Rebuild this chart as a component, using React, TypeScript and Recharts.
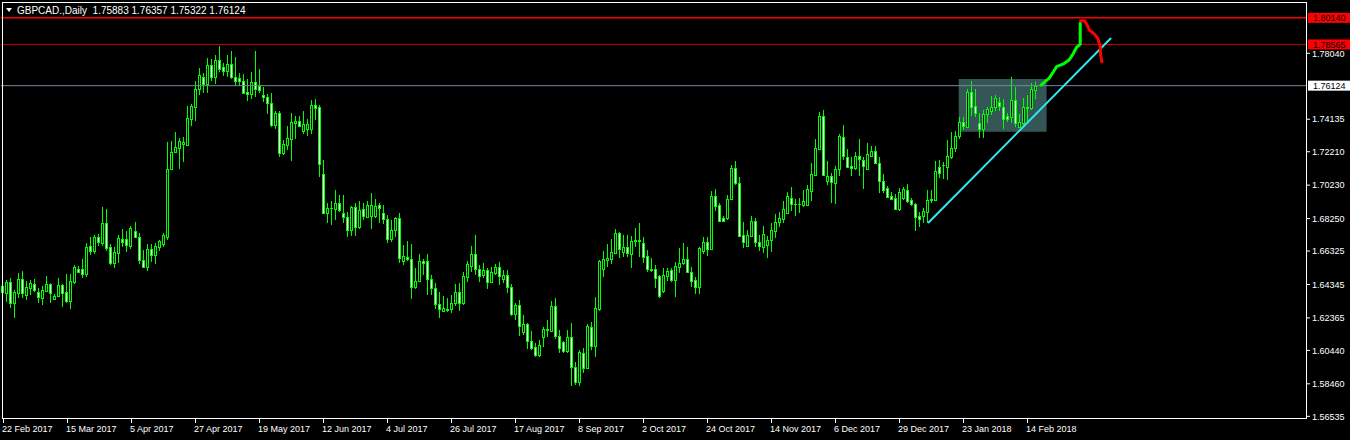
import { Bar, ComposedChart, ReferenceArea, ReferenceLine, Scatter, XAxis, YAxis } from 'recharts';

const open = [
  1.6426, 1.6384, 1.6449, 1.6325, 1.6384, 1.6467, 1.6372, 1.6414, 1.6437, 1.6390,
  1.6354, 1.6396, 1.6437, 1.6349, 1.6366, 1.6432, 1.6390, 1.6337, 1.6449, 1.6526,
  1.6526, 1.6497, 1.6663, 1.6633, 1.6716, 1.6680, 1.6799, 1.6657, 1.6562, 1.6621,
  1.6704, 1.6704, 1.6663, 1.6751, 1.6716, 1.6580, 1.6538, 1.6645, 1.6609, 1.6657,
  1.6674, 1.6716, 1.7119, 1.7219, 1.7243, 1.7267, 1.7261, 1.7415, 1.7486, 1.7593,
  1.7664, 1.7622, 1.7735, 1.7664, 1.7764, 1.7723, 1.7699, 1.7741, 1.7664, 1.7658,
  1.7640, 1.7575, 1.7563, 1.7634, 1.7610, 1.7557, 1.7545, 1.7510, 1.7379, 1.7450,
  1.7213, 1.7261, 1.7296, 1.7391, 1.7403, 1.7344, 1.7356, 1.7356, 1.7498, 1.7486,
  1.7089, 1.6858, 1.6888, 1.6882, 1.6917, 1.6858, 1.6834, 1.6757, 1.6894, 1.6775,
  1.6882, 1.6834, 1.6840, 1.6840, 1.6905, 1.6858, 1.6822, 1.6704, 1.6757, 1.6828,
  1.6574, 1.6597, 1.6586, 1.6420, 1.6455, 1.6574, 1.6574, 1.6467, 1.6414, 1.6319,
  1.6278, 1.6283, 1.6289, 1.6325, 1.6390, 1.6325, 1.6479, 1.6544, 1.6615, 1.6526,
  1.6491, 1.6520, 1.6449, 1.6503, 1.6538, 1.6467, 1.6491, 1.6420, 1.6260, 1.6313,
  1.6153, 1.6200, 1.6100, 1.6064, 1.6017, 1.6123, 1.6162, 1.6159, 1.6307, 1.6129,
  1.6094, 1.6041, 1.6123, 1.5946, 1.5857, 1.6029, 1.5940, 1.6183, 1.6070, 1.6289,
  1.6526, 1.6580, 1.6586, 1.6621, 1.6740, 1.6627, 1.6657, 1.6615, 1.6698, 1.6695,
  1.6680, 1.6603, 1.6526, 1.6526, 1.6485, 1.6396, 1.6485, 1.6520, 1.6461, 1.6538,
  1.6562, 1.6586, 1.6509, 1.6461, 1.6420, 1.6633, 1.6686, 1.6645, 1.6959, 1.6905,
  1.6828, 1.6828, 1.6941, 1.7125, 1.7036, 1.6728, 1.6663, 1.6722, 1.6811, 1.6686,
  1.6657, 1.6668, 1.6698, 1.6751, 1.6805, 1.6822, 1.6858, 1.6947, 1.6911, 1.6909,
  1.6905, 1.6905, 1.6988, 1.7083, 1.7237, 1.7433, 1.7048, 1.7077, 1.7036, 1.7119,
  1.7308, 1.7190, 1.7137, 1.7125, 1.7196, 1.7172, 1.7119, 1.7196, 1.7225, 1.7154,
  1.7048, 1.7006, 1.6959, 1.6947, 1.6882, 1.6947, 1.6994, 1.6935, 1.6911, 1.6840,
  1.6840, 1.6864, 1.6935, 1.6935, 1.7131, 1.7140, 1.7131, 1.7190, 1.7243, 1.7314,
  1.7397, 1.7367, 1.7575, 1.7492, 1.7391, 1.7356, 1.7445, 1.7462, 1.7486, 1.7516,
  1.7486, 1.7433, 1.7427, 1.7527, 1.7367, 1.7391, 1.7484, 1.7480, 1.75883
];

const high = [
  1.6449, 1.6461, 1.6473, 1.6402, 1.6503, 1.6514, 1.6455, 1.6461, 1.6467, 1.6414,
  1.6426, 1.6485, 1.6440, 1.6378, 1.6473, 1.6437, 1.6497, 1.6497, 1.6550, 1.6544,
  1.6586, 1.6680, 1.6716, 1.6728, 1.6734, 1.6894, 1.6882, 1.6674, 1.6657, 1.6728,
  1.6763, 1.6751, 1.6781, 1.6805, 1.6740, 1.6639, 1.6674, 1.6674, 1.6680, 1.6698,
  1.6740, 1.7279, 1.7285, 1.7338, 1.7302, 1.7308, 1.7492, 1.7504, 1.7640, 1.7717,
  1.7687, 1.7776, 1.7770, 1.7794, 1.7847, 1.7747, 1.7794, 1.7818, 1.7782, 1.7687,
  1.7681, 1.7652, 1.7693, 1.7818, 1.7711, 1.7604, 1.7563, 1.7569, 1.7462, 1.7462,
  1.7290, 1.7373, 1.7450, 1.7433, 1.7433, 1.7462, 1.7415, 1.7527, 1.7533, 1.7498,
  1.7172, 1.6917, 1.6929, 1.6994, 1.6965, 1.6965, 1.6864, 1.6900, 1.6917, 1.6929,
  1.6917, 1.6929, 1.6976, 1.6941, 1.6917, 1.6905, 1.6846, 1.6817, 1.6834, 1.6858,
  1.6668, 1.6692, 1.6674, 1.6532, 1.6615, 1.6586, 1.6615, 1.6491, 1.6443, 1.6390,
  1.6366, 1.6354, 1.6372, 1.6437, 1.6443, 1.6509, 1.6574, 1.6663, 1.6728, 1.6550,
  1.6562, 1.6532, 1.6538, 1.6556, 1.6568, 1.6520, 1.6520, 1.6437, 1.6325, 1.6343,
  1.6254, 1.6206, 1.6159, 1.6088, 1.6106, 1.6183, 1.6224, 1.6337, 1.6354, 1.6165,
  1.6100, 1.6165, 1.6206, 1.5975, 1.6046, 1.6058, 1.6200, 1.6212, 1.6360, 1.6580,
  1.6633, 1.6674, 1.6704, 1.6763, 1.6746, 1.6728, 1.6728, 1.6722, 1.6769, 1.6799,
  1.6716, 1.6639, 1.6591, 1.6550, 1.6491, 1.6532, 1.6532, 1.6532, 1.6568, 1.6651,
  1.6680, 1.6657, 1.6538, 1.6479, 1.6657, 1.6716, 1.6716, 1.6988, 1.7000, 1.6917,
  1.6840, 1.6965, 1.7142, 1.7166, 1.7071, 1.6805, 1.6757, 1.6840, 1.6828, 1.6728,
  1.6781, 1.6722, 1.6799, 1.6852, 1.6864, 1.6929, 1.6982, 1.7012, 1.6941, 1.6947,
  1.6994, 1.7024, 1.7154, 1.7296, 1.7456, 1.7468, 1.7166, 1.7095, 1.7137, 1.7326,
  1.7379, 1.7237, 1.7190, 1.7219, 1.7296, 1.7190, 1.7273, 1.7255, 1.7255, 1.7190,
  1.7089, 1.7018, 1.6982, 1.6971, 1.7006, 1.7012, 1.7030, 1.6947, 1.6917, 1.6864,
  1.6888, 1.6994, 1.6994, 1.7166, 1.7172, 1.7160, 1.7290, 1.7338, 1.7344, 1.7427,
  1.7427, 1.7593, 1.7640, 1.7593, 1.7450, 1.7468, 1.7486, 1.7551, 1.7557, 1.7545,
  1.7533, 1.7450, 1.7664, 1.7604, 1.7445, 1.7539, 1.7557, 1.7628, 1.76357
];

const low = [
  1.6354, 1.6331, 1.6295, 1.6236, 1.6354, 1.6354, 1.6343, 1.6372, 1.6390, 1.6325,
  1.6313, 1.6390, 1.6325, 1.6343, 1.6360, 1.6301, 1.6325, 1.6289, 1.6437, 1.6503,
  1.6473, 1.6479, 1.6609, 1.6615, 1.6663, 1.6663, 1.6633, 1.6550, 1.6532, 1.6562,
  1.6657, 1.6627, 1.6645, 1.6710, 1.6556, 1.6532, 1.6514, 1.6568, 1.6556, 1.6633,
  1.6657, 1.6698, 1.7160, 1.7213, 1.7119, 1.7160, 1.7255, 1.7373, 1.7403, 1.7557,
  1.7569, 1.7569, 1.7640, 1.7622, 1.7693, 1.7670, 1.7664, 1.7652, 1.7610, 1.7610,
  1.7563, 1.7521, 1.7533, 1.7545, 1.7569, 1.7516, 1.7445, 1.7367, 1.7356, 1.7190,
  1.7202, 1.7231, 1.7166, 1.7296, 1.7367, 1.7326, 1.7314, 1.7326, 1.7409, 1.7071,
  1.6852, 1.6799, 1.6787, 1.6817, 1.6864, 1.6799, 1.6716, 1.6722, 1.6722, 1.6763,
  1.6817, 1.6828, 1.6763, 1.6828, 1.6799, 1.6793, 1.6680, 1.6686, 1.6716, 1.6562,
  1.6550, 1.6574, 1.6349, 1.6408, 1.6449, 1.6491, 1.6372, 1.6372, 1.6289, 1.6236,
  1.6272, 1.6272, 1.6266, 1.6307, 1.6278, 1.6313, 1.6449, 1.6509, 1.6491, 1.6449,
  1.6473, 1.6408, 1.6443, 1.6491, 1.6432, 1.6443, 1.6384, 1.6248, 1.6224, 1.6129,
  1.6135, 1.6052, 1.6046, 1.6005, 1.6005, 1.6064, 1.6123, 1.6153, 1.6112, 1.6029,
  1.6029, 1.6029, 1.5833, 1.5839, 1.5833, 1.5910, 1.5934, 1.6046, 1.6005, 1.6278,
  1.6479, 1.6538, 1.6556, 1.6615, 1.6591, 1.6597, 1.6597, 1.6532, 1.6657, 1.6597,
  1.6562, 1.6509, 1.6509, 1.6414, 1.6354, 1.6384, 1.6455, 1.6449, 1.6360, 1.6503,
  1.6550, 1.6503, 1.6420, 1.6378, 1.6378, 1.6615, 1.6603, 1.6639, 1.6870, 1.6808,
  1.6805, 1.6817, 1.6935, 1.7024, 1.6716, 1.6651, 1.6657, 1.6716, 1.6657, 1.6633,
  1.6621, 1.6591, 1.6627, 1.6710, 1.6775, 1.6799, 1.6858, 1.6870, 1.6840, 1.6858,
  1.6894, 1.6900, 1.6929, 1.7077, 1.7231, 1.7077, 1.7024, 1.6917, 1.6911, 1.7077,
  1.7172, 1.7125, 1.7077, 1.7113, 1.7077, 1.7000, 1.7113, 1.7190, 1.7148, 1.6976,
  1.6976, 1.6953, 1.6935, 1.6876, 1.6870, 1.6935, 1.6917, 1.6900, 1.6751, 1.6775,
  1.6799, 1.6799, 1.6917, 1.6929, 1.7065, 1.7059, 1.7054, 1.7178, 1.7219, 1.7296,
  1.7350, 1.7361, 1.7433, 1.7427, 1.7302, 1.7302, 1.7391, 1.7439, 1.7462, 1.7462,
  1.7356, 1.7397, 1.7391, 1.7367, 1.7365, 1.7379, 1.7397, 1.7468, 1.75322
];

const close = [
  1.6390, 1.6449, 1.6325, 1.6390, 1.6467, 1.6384, 1.6420, 1.6443, 1.6402, 1.6360,
  1.6402, 1.6437, 1.6384, 1.6366, 1.6432, 1.6384, 1.6337, 1.6455, 1.6538, 1.6509,
  1.6497, 1.6657, 1.6633, 1.6716, 1.6686, 1.6799, 1.6651, 1.6562, 1.6627, 1.6710,
  1.6686, 1.6668, 1.6769, 1.6716, 1.6580, 1.6538, 1.6645, 1.6609, 1.6663, 1.6692,
  1.6728, 1.7119, 1.7219, 1.7249, 1.7285, 1.7279, 1.7421, 1.7492, 1.7593, 1.7676,
  1.7622, 1.7735, 1.7664, 1.7764, 1.7711, 1.7699, 1.7741, 1.7664, 1.7640, 1.7640,
  1.7569, 1.7563, 1.7634, 1.7593, 1.7587, 1.7548, 1.7510, 1.7379, 1.7450, 1.7213,
  1.7267, 1.7302, 1.7397, 1.7403, 1.7373, 1.7385, 1.7385, 1.7498, 1.7480, 1.7148,
  1.6858, 1.6888, 1.6885, 1.6917, 1.6876, 1.6834, 1.6757, 1.6894, 1.6775, 1.6876,
  1.6840, 1.6905, 1.6905, 1.6900, 1.6888, 1.6822, 1.6704, 1.6757, 1.6828, 1.6591,
  1.6603, 1.6586, 1.6420, 1.6455, 1.6574, 1.6562, 1.6467, 1.6414, 1.6319, 1.6289,
  1.6295, 1.6292, 1.6325, 1.6390, 1.6325, 1.6485, 1.6556, 1.6615, 1.6526, 1.6485,
  1.6520, 1.6449, 1.6509, 1.6538, 1.6485, 1.6491, 1.6420, 1.6260, 1.6313, 1.6189,
  1.6200, 1.6100, 1.6058, 1.6017, 1.6076, 1.6171, 1.6168, 1.6307, 1.6129, 1.6058,
  1.6041, 1.6123, 1.5946, 1.5857, 1.6035, 1.5940, 1.6189, 1.6070, 1.6295, 1.6574,
  1.6586, 1.6591, 1.6627, 1.6740, 1.6645, 1.6657, 1.6621, 1.6692, 1.6695, 1.6698,
  1.6597, 1.6526, 1.6523, 1.6473, 1.6366, 1.6491, 1.6514, 1.6461, 1.6544, 1.6562,
  1.6586, 1.6509, 1.6455, 1.6420, 1.6651, 1.6686, 1.6645, 1.6959, 1.6900, 1.6811,
  1.6811, 1.6941, 1.7125, 1.7036, 1.6722, 1.6686, 1.6728, 1.6811, 1.6686, 1.6663,
  1.6734, 1.6698, 1.6757, 1.6805, 1.6828, 1.6882, 1.6959, 1.6911, 1.6909, 1.6911,
  1.6929, 1.7000, 1.7089, 1.7243, 1.7433, 1.7083, 1.7077, 1.7042, 1.7119, 1.7314,
  1.7196, 1.7131, 1.7125, 1.7196, 1.7178, 1.7137, 1.7208, 1.7225, 1.7154, 1.7048,
  1.6994, 1.6953, 1.6941, 1.6882, 1.6982, 1.7000, 1.6929, 1.6911, 1.6834, 1.6822,
  1.6870, 1.6935, 1.6938, 1.7107, 1.7095, 1.7142, 1.7196, 1.7243, 1.7314, 1.7397,
  1.7373, 1.7575, 1.7486, 1.7450, 1.7356, 1.7445, 1.7474, 1.7486, 1.7539, 1.7492,
  1.7415, 1.7415, 1.7527, 1.7391, 1.7397, 1.7486, 1.7482, 1.7593, 1.76124
];

const dateLabels = [
  '22 Feb 2017', '15 Mar 2017', '5 Apr 2017', '27 Apr 2017', '19 May 2017', '12 Jun 2017',
  '4 Jul 2017', '26 Jul 2017', '17 Aug 2017', '8 Sep 2017', '2 Oct 2017', '24 Oct 2017',
  '14 Nov 2017', '6 Dec 2017', '29 Dec 2017', '23 Jan 2018', '14 Feb 2018'
];
const dateBars = [0, 16, 32, 48, 64, 80, 96, 112, 128, 144, 160, 176, 192, 208, 224, 240, 256];

const priceTicks = [
  1.56535, 1.5846, 1.6044, 1.62365, 1.64345, 1.66325, 1.6825, 1.7023,
  1.7221, 1.74135, 1.7804
];

// hand drawn objects on the chart (bar position, price)
const trendLine = [
  { v: 231.1, p: 1.6799 },
  { v: 276.8, p: 1.7895 }
];
const greenPath = [
  { v: 259.3, p: 1.7616 }, { v: 260.3, p: 1.7636 }, { v: 261.3, p: 1.7656 },
  { v: 262.4, p: 1.7695 }, { v: 263.2, p: 1.7725 }, { v: 264.9, p: 1.7741 },
  { v: 266.3, p: 1.7764 }, { v: 267.4, p: 1.7804 }, { v: 268.2, p: 1.784 },
  { v: 269.1, p: 1.7857 }, { v: 269.1, p: 1.7982 }
];
const redPath = [
  { v: 269.2, p: 1.7997 }, { v: 270.3, p: 1.7995 }, { v: 271.4, p: 1.7942 },
  { v: 272.4, p: 1.7923 }, { v: 273.5, p: 1.7893 }, { v: 274.1, p: 1.7843 },
  { v: 274.2, p: 1.7794 }, { v: 274.5, p: 1.7754 }
];
const boxBars = [238.75, 260.7];
const boxPrices = [1.73396, 1.76518];

const levelTop = 1.8014;
const levelMid = 1.78565;
const bidPrice = 1.76124;

const SLOTS = 326;
const GREEN = '#00ff00';

const rows = Array.from({ length: SLOTS }, (_, i) =>
  i < close.length ? { i, o: open[i], h: high[i], l: low[i], c: close[i] } : { i }
);

function Candle(props: any) {
  const { x, y, width, height, payload } = props;
  if (!payload || payload.o == null) return null;
  const { o, h, l, c } = payload;
  const top = Math.min(y, y + height);
  const span = Math.abs(height);
  const toY = (v: number) => (h === l ? top : top + ((h - v) / (h - l)) * span);
  const cx = Math.floor(x + width / 2) + 0.5;
  const yo = Math.round(toY(o));
  const yc = Math.round(toY(c));
  const bodyTop = Math.min(yo, yc) + 0.5;
  const bodyH = Math.abs(yc - yo);
  return (
    <g>
      <line x1={cx} x2={cx} y1={top} y2={top + span} stroke={GREEN} strokeWidth={1} />
      {bodyH < 1 ? (
        <line x1={cx - 1.5} x2={cx + 1.5} y1={bodyTop} y2={bodyTop} stroke={GREEN} strokeWidth={1} />
      ) : (
        <rect
          x={cx - 1}
          y={bodyTop}
          width={2}
          height={bodyH}
          fill={c >= o ? '#000' : '#fff'}
          stroke={GREEN}
          strokeWidth={1}
        />
      )}
    </g>
  );
}

function DateTick({ x, y, payload }: any) {
  const k = dateBars.indexOf(payload.value);
  const px = Math.floor(x) + 0.5;
  return (
    <g>
      <line x1={px} x2={px} y1={y - 4} y2={y} stroke="#fff" />
      <text x={px - 1.5} y={y + 8.5} fill="#fff" fontSize={9} textAnchor="start">
        {dateLabels[k]}
      </text>
    </g>
  );
}

function PriceTag({ viewBox, price, bg }: any) {
  const x = viewBox.x + viewBox.width + 2;
  const y = viewBox.y;
  return (
    <g>
      <rect x={x} y={y - 5} width={44} height={10} fill={bg} />
      <text x={x + 5} y={y} dy="0.35em" fontSize={9} fill="#000">
        {price.toFixed(5)}
      </text>
    </g>
  );
}

export default function App() {
  return (
    <div
      style={{
        position: 'absolute',
        left: 0,
        top: 0,
        width: 1350,
        height: 440,
        background: '#000',
        overflow: 'hidden',
        fontFamily: '"Liberation Sans", Arial, sans-serif'
      }}
    >
      <ComposedChart width={1350} height={440} data={rows} margin={{ top: 2, right: 0, bottom: 0, left: 1 }}>
        <XAxis
          dataKey="i"
          type="category"
          ticks={dateBars}
          interval={0}
          height={21}
          axisLine={false}
          tickLine={false}
          tickSize={4}
          tickMargin={0}
          tick={<DateTick />}
        />
        <XAxis xAxisId="n" type="number" dataKey="v" domain={[-0.5, SLOTS - 0.5]} allowDataOverflow hide />
        <YAxis
          orientation="right"
          type="number"
          width={44}
          domain={[1.56376, 1.8108]}
          allowDataOverflow
          ticks={priceTicks}
          interval={0}
          axisLine={false}
          tickLine={{ stroke: '#fff' }}
          tickSize={4}
          tickMargin={2}
          tick={{ fill: '#fff', fontSize: 9 }}
          tickFormatter={(v: number) => v.toFixed(5)}
        />
        <ReferenceArea
          xAxisId="n"
          x1={boxBars[0]}
          x2={boxBars[1]}
          y1={boxPrices[0]}
          y2={boxPrices[1]}
          fill="#345656"
          fillOpacity={1}
          stroke="none"
          ifOverflow="visible"
        />
        <Bar
          dataKey={(d: any) => (d.o == null ? null : [d.l, d.h])}
          shape={<Candle />}
          isAnimationActive={false}
        />
        <ReferenceLine y={levelTop} stroke="#ff0000" strokeWidth={1.5} label={<PriceTag price={levelTop} bg="#ff0000" />} />
        <ReferenceLine y={levelMid} stroke="#c00000" strokeWidth={1} label={<PriceTag price={levelMid} bg="#ff0000" />} />
        <ReferenceLine y={bidPrice} stroke="#778899" strokeWidth={1} label={<PriceTag price={bidPrice} bg="#ffffff" />} />
        <Scatter
          xAxisId="n"
          data={trendLine}
          dataKey="p"
          line={{ stroke: '#33e6f0', strokeWidth: 2 }}
          shape={() => <g />}
          isAnimationActive={false}
        />
        <Scatter
          xAxisId="n"
          data={greenPath}
          dataKey="p"
          line={{ stroke: GREEN, strokeWidth: 3, strokeLinecap: 'round', strokeLinejoin: 'round' }}
          shape={() => <g />}
          isAnimationActive={false}
        />
        <Scatter
          xAxisId="n"
          data={redPath}
          dataKey="p"
          line={{ stroke: '#ff0000', strokeWidth: 3, strokeLinecap: 'round', strokeLinejoin: 'round' }}
          shape={() => <g />}
          isAnimationActive={false}
        />
      </ComposedChart>
      <div
        style={{
          position: 'absolute',
          left: 2,
          top: 2,
          width: 1305,
          height: 417,
          border: '1px solid #fff',
          boxSizing: 'border-box',
          pointerEvents: 'none'
        }}
      />
      <div
        style={{
          position: 'absolute',
          left: 5,
          top: 5,
          color: '#fff',
          fontSize: 10,
          lineHeight: '11px',
          whiteSpace: 'pre'
        }}
      >
        <svg width={8} height={8} style={{ marginRight: 4, verticalAlign: 'baseline' }}>
          <polygon points="1,2 7,2 4,6" fill="#fff" />
        </svg>
        {'GBPCAD.,Daily  1.75883 1.76357 1.75322 1.76124'}
      </div>
    </div>
  );
}
